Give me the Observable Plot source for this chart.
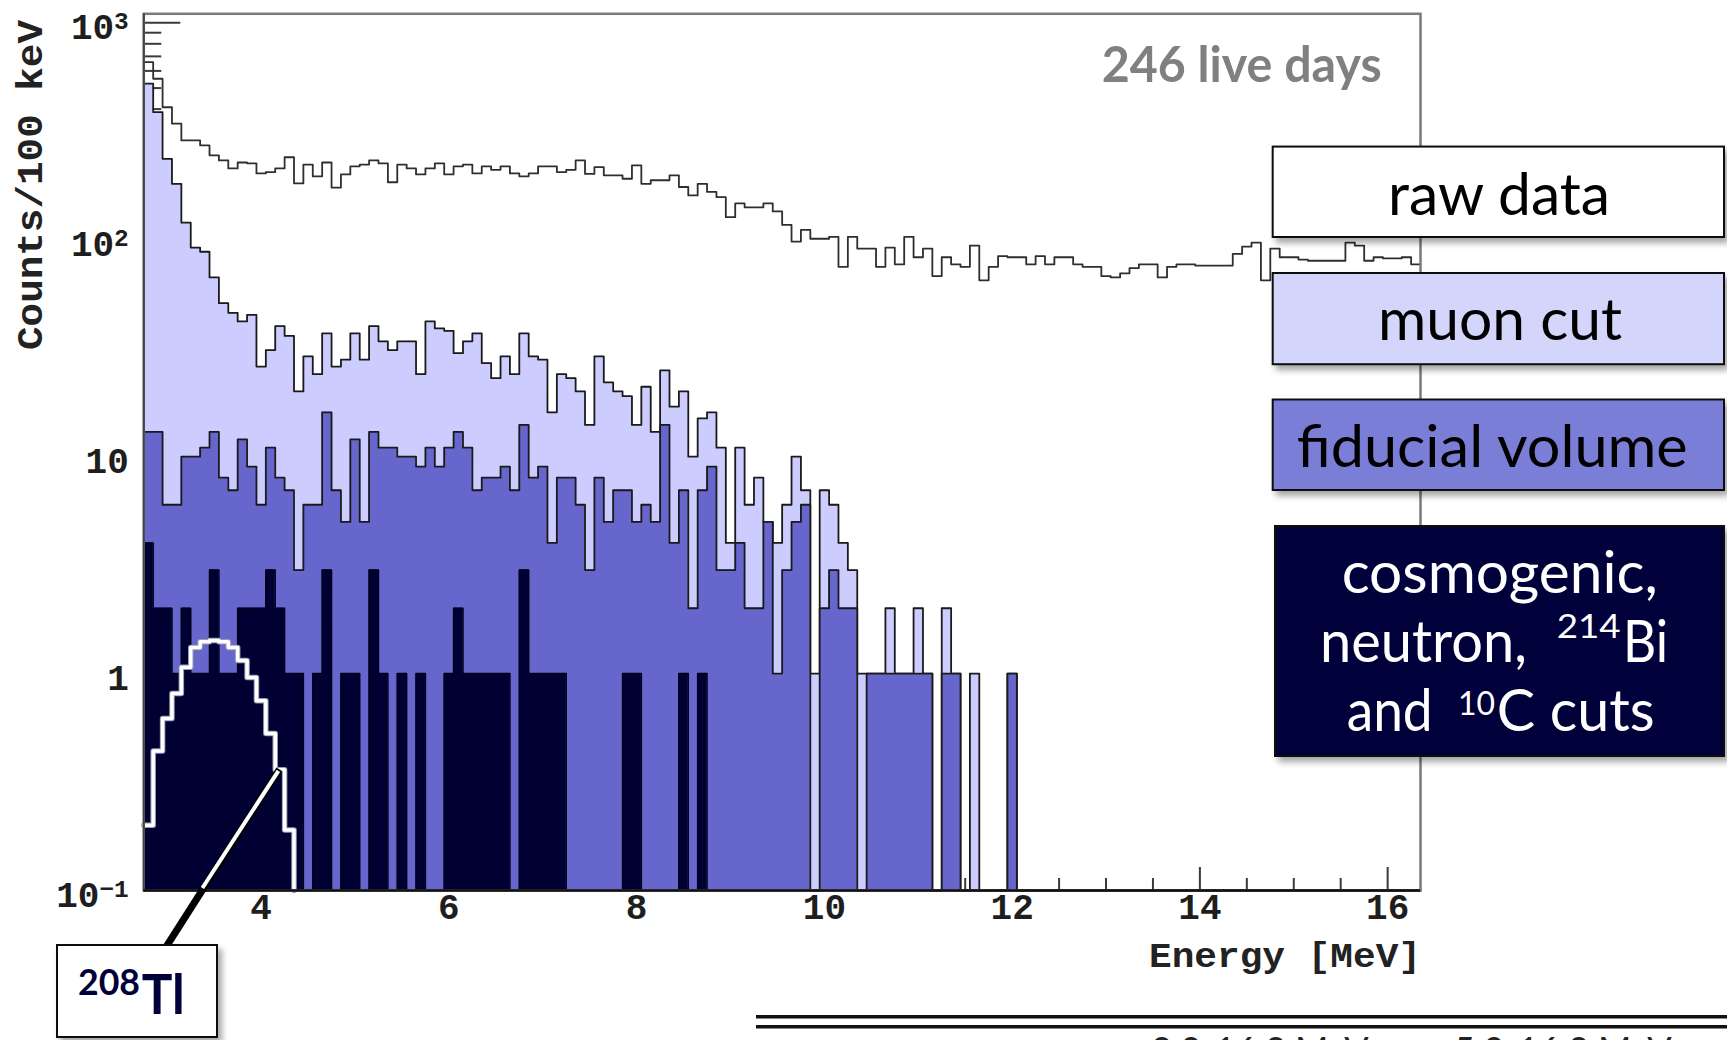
<!DOCTYPE html>
<html>
<head>
<meta charset="utf-8">
<script src="https://cdn.jsdelivr.net/npm/d3@7"></script>
<script src="https://cdn.jsdelivr.net/npm/@observablehq/plot@0.6"></script>
<style>
html, body { margin: 0; padding: 0; background: #fff; overflow: hidden; }
#chart { position: relative; width: 1727px; height: 1040px; }
#chart svg { display: block; }
</style>
</head>
<body>
<div id="chart"></div>
<script>
// ---------------- data ----------------
const binLow = 2.75;      // MeV, lower edge of the first 100 keV bin
const binWidth = 0.1;     // MeV
const yMin = 0.1, yMax = 1100;
const xMin = 2.75, xMax = 16.35;

const rawCounts = [
  659,552,408,343,287,287,272,245,232,213,
  227,225,202,205,213,240,182,222,196,227,
  174,200,218,222,232,225,184,222,213,200,
  213,225,200,218,222,202,218,210,218,202,
  196,202,218,218,205,210,232,201,216,198,
  198,191,220,181,188,188,198,175,160,181,
  166,157,127,147,141,141,147,135,117,98,
  111,101,101,103,75,103,91,91,75,92,
  77,103,83,91,68,83,77,75,94,65,
  75,84,83,83,77,84,77,83,83,77,
  75,75,68,67,70,74,77,77,67,75,
  77,77,76,76,76,76,86,93,97,65,
  91,83,83,81,80,80,80,80,97,94,
  80,83,82,82,83,77
];
const muonCutCounts = [
  524,387,236,181,120,92,88,67,51,46,
  42,45,26,31,40,36,20,29,24,37,
  26,28,37,28,40,34,31,34,34,24,
  42,39,38,30,34,37,27,23,29,24,
  37,29,28,16,24,23,20,14,29,22,
  20,19,14,21,13,25,17,20,10,15,
  16,11,4,11,6,8,5,4,6,10,
  7,1,7,6,4,3,1,1,1,2,
  1,1,2,1,0,2,1,0,1,0,
  0,0,1,0,0,0,0,0,0,0,
  0,0,0,0,0,0,0,0,0,0,
  0,0,0,0,0,0,0,0,0,0,
  0,0,0,0,0,0,0,0,0,0,
  0,0,0,0,0,0
];
const fiducialCounts = [
  13,13,6,6,10,10,11,13,8,7,
  12,9,6,11,8,7,3,6,6,16,
  7,5,12,5,13,11,11,10,10,9,
  11,9,11,13,11,7,8,8,9,7,
  14,8,9,4,8,8,6,3,8,5,
  7,7,5,6,5,14,4,7,2,7,
  9,3,3,4,2,2,5,1,3,5,
  6,0,2,3,2,2,0,1,1,1,
  1,1,1,1,0,1,1,0,0,0,
  0,0,1,0,0,0,0,0,0,0,
  0,0,0,0,0,0,0,0,0,0,
  0,0,0,0,0,0,0,0,0,0,
  0,0,0,0,0,0,0,0,0,0,
  0,0,0,0,0,0
];
const cosmogenicCutCounts = [
  4,2,2,1,2,1,1,3,1,1,
  2,2,2,3,2,1,1,0,1,3,
  0,1,1,0,3,1,0,1,0,1,
  0,0,1,2,1,1,1,1,1,0,
  3,1,1,1,1,0,0,0,0,0,
  0,1,1,0,0,0,0,1,0,1,
  0,0,0,0,0,0,0,0,0,0,
  0,0,0,0,0,0,0,0,0,0,
  0,0,0,0,0,0,0,0,0,0,
  0,0,0,0,0,0,0,0,0,0,
  0,0,0,0,0,0,0,0,0,0,
  0,0,0,0,0,0,0,0,0,0,
  0,0,0,0,0,0,0,0,0,0,
  0,0,0,0,0,0
];
// expected 208Tl spectrum (white curve), first 16 bins
const tl208Expected = [0.20,0.44,0.62,0.81,1.07,1.32,1.40,1.42,1.40,1.32,1.15,0.96,0.75,0.53,0.36,0.19];

const yTickValues = [0.1, 1, 10, 100, 1000];
const yTickLabels = ["10^-1", "1", "10", "10^2", "10^3"];
const xTickValues = [4, 6, 8, 10, 12, 14, 16];
const xTickLabels = ["4", "6", "8", "10", "12", "14", "16"];

const legendLabels = ["raw data", "muon cut", "fiducial volume"];
const cutLegendLines = ["cosmogenic,", "neutron,", "214", "Bi", "and", "10", "C cuts"];
const exposureLabel = "246 live days";
const peakLabel = ["208", "Tl"];
const yTitle = "Counts/100 keV";
const xTitle = "Energy [MeV]";
const rangeLabels = ["3.0-16.3 MeV", "5.0-16.3 MeV"];

// ---------------- helpers ----------------
function stepPoints(counts, dropAtEnd) {
  const pts = counts.map((c, i) => ({x: binLow + i * binWidth, y: c > 0 ? c : yMin}));
  pts.push({x: binLow + counts.length * binWidth, y: dropAtEnd ? yMin : pts[pts.length - 1].y});
  return pts;
}
const rawPts = stepPoints(rawCounts, false);
const muonPts = stepPoints(muonCutCounts, false);
const fidPts = stepPoints(fiducialCounts, false);
const cosPts = stepPoints(cosmogenicCutCounts, false);
const tlPts = stepPoints(tl208Expected, true);

const yMinorTicks = [];
[0.1, 1, 10, 100].forEach(dec => { for (let m = 2; m <= 9; m++) yMinorTicks.push(+(dec * m).toPrecision(3)); });
const xMinorTicks = d3.range(3, 16.3, 0.5).filter(v => v % 2 !== 0);

// ---------------- layout ----------------
const W = 1727, H = 1040;
const M = {left: 143.3, top: 13.3, right: 307, bottom: 150};
const innerW = W - M.left - M.right;
const innerH = H - M.top - M.bottom;
const mono = "'Liberation Mono', 'DejaVu Sans Mono', monospace";
const sans = "Lato, 'Open Sans', sans-serif";
const tickStroke = "#3a3a3a";
const colors = {muon: "#ccccff", fid: "#6666cc", cos: "#000033"};

const chart = Plot.plot({
  width: W, height: H,
  marginLeft: M.left, marginTop: M.top, marginRight: M.right, marginBottom: M.bottom,
  style: {background: "white", fontFamily: mono, overflow: "visible"},
  x: {domain: [xMin, xMax], axis: null},
  y: {type: "log", domain: [yMin, yMax], axis: null},
  marks: [
    // inward ticks (drawn first, hidden behind the filled histograms)
    Plot.tickY(yTickValues, {y: d => d, insetRight: innerW - 37, stroke: tickStroke, strokeWidth: 2}),
    Plot.tickY(yMinorTicks, {y: d => d, insetRight: innerW - 18, stroke: tickStroke, strokeWidth: 2}),
    Plot.tickX(xTickValues, {x: d => d, insetTop: innerH - 23, stroke: tickStroke, strokeWidth: 2}),
    Plot.tickX(xMinorTicks, {x: d => d, insetTop: innerH - 12, stroke: tickStroke, strokeWidth: 2}),
    // raw data
    Plot.line(rawPts, {x: "x", y: "y", curve: "step-after", stroke: "#2e2e2e", strokeWidth: 1.8}),
    // muon cut
    Plot.areaY(muonPts, {x: "x", y1: yMin, y2: "y", curve: "step-after", fill: colors.muon}),
    Plot.line(muonPts, {x: "x", y: "y", curve: "step-after", stroke: "#1a1a1a", strokeWidth: 1.8}),
    // fiducial volume
    Plot.areaY(fidPts, {x: "x", y1: yMin, y2: "y", curve: "step-after", fill: colors.fid}),
    Plot.line(fidPts, {x: "x", y: "y", curve: "step-after", stroke: "#1a1a1a", strokeWidth: 1.8}),
    // cosmogenic, neutron, 214Bi and 10C cuts
    Plot.areaY(cosPts, {x: "x", y1: yMin, y2: "y", curve: "step-after", fill: colors.cos}),
    Plot.line(cosPts, {x: "x", y: "y", curve: "step-after", stroke: "#00001a", strokeWidth: 1.5}),
    // 208Tl expectation
    Plot.line(tlPts, {x: "x", y: "y", curve: "step-after", stroke: "#9a9ab4", strokeWidth: 5.5}),
    Plot.line(tlPts, {x: "x", y: "y", curve: "step-after", stroke: "#ffffff", strokeWidth: 3.5}),
    // frame and axes lines
    Plot.frame({stroke: "#7a7a7a", strokeWidth: 2.5}),
    Plot.ruleX([xMin], {stroke: "#444", strokeWidth: 2}),
    Plot.ruleY([yMin], {stroke: "#111", strokeWidth: 2.5}),
    // tick labels
    Plot.text(yTickValues, {y: d => d, frameAnchor: "left", dx: -15, dy: 5, textAnchor: "end",
      text: (d, i) => yTickLabels[i], fontSize: 36, fontWeight: "bold", fontFamily: mono, fill: "#1e1e1e"}),
    Plot.text(xTickValues, {x: d => d, frameAnchor: "bottom", dy: 28,
      text: (d, i) => xTickLabels[i], fontSize: 36, fontWeight: "bold", fontFamily: mono, fill: "#1e1e1e"})
  ]
});
document.getElementById("chart").appendChild(chart);

// ---------------- annotations ----------------
const svg = d3.select(chart);
// superscripts in y tick labels
svg.selectAll("text").each(function () {
  const s = this.textContent;
  if (s.includes("^")) {
    const [base, exp] = s.split("^");
    const el = d3.select(this);
    el.text(null);
    el.append("tspan").text(base);
    el.append("tspan").attr("dy", "-0.42em").attr("font-size", "0.68em").text(exp.replace("-", "\u2212"));
  }
});

const defs = svg.append("defs");
const filt = defs.append("filter").attr("id", "shadow")
  .attr("x", "-5%").attr("y", "-5%").attr("width", "115%").attr("height", "130%");
filt.append("feDropShadow").attr("dx", 4).attr("dy", 5).attr("stdDeviation", 3)
  .attr("flood-color", "#000").attr("flood-opacity", 0.35);

function addText(g, str, x, y, o) {
  const t = g.append("text").attr("x", x).attr("y", y)
    .attr("text-anchor", "start")
    .attr("font-family", o.family || sans)
    .attr("font-size", o.size)
    .attr("font-weight", o.weight || "normal")
    .attr("fill", o.fill || "#000")
    .text(str);
  if (o.len) t.attr("textLength", o.len).attr("lengthAdjust", "spacingAndGlyphs");
  if (o.transform) t.attr("transform", o.transform);
  return t;
}

const ann = svg.append("g").attr("text-anchor", "start");

// axis titles
addText(ann, yTitle, 0, 0, {family: mono, size: 37, weight: "bold", fill: "#222", len: 330,
  transform: "translate(42,350) rotate(-90)"});
addText(ann, xTitle, 1149, 967, {family: mono, size: 35, weight: "bold", fill: "#222", len: 272});

// exposure
addText(ann, exposureLabel, 1101.7, 81.7, {size: 49, weight: "bold", fill: "#808080", len: 280});

// legend boxes
const boxes = [
  {x: 1272.7, y: 146.6, w: 451.3, h: 90.4, fill: "#ffffff"},
  {x: 1272.7, y: 273.0, w: 451.3, h: 91.2, fill: "#d4d5fb"},
  {x: 1272.7, y: 399.5, w: 451.3, h: 90.5, fill: "#7a7ed6"},
  {x: 1275.0, y: 526.0, w: 449.0, h: 230.0, fill: "#00003a"}
];
boxes.forEach(b => {
  ann.append("rect").attr("x", b.x).attr("y", b.y).attr("width", b.w).attr("height", b.h)
    .attr("fill", b.fill).attr("stroke", "#111").attr("stroke-width", 2).attr("filter", "url(#shadow)");
});
addText(ann, legendLabels[0], 1388, 215, {size: 58, len: 222});
addText(ann, legendLabels[1], 1378, 340, {size: 58, len: 244});
addText(ann, legendLabels[2], 1296.7, 467, {size: 58, len: 391});
addText(ann, cutLegendLines[0], 1341.7, 593, {size: 58, len: 316, fill: "#fff"});
addText(ann, cutLegendLines[1], 1320, 662, {size: 58, len: 207, fill: "#fff"});
addText(ann, cutLegendLines[2], 1556.7, 638, {size: 33, len: 64, fill: "#fff"});
addText(ann, cutLegendLines[3], 1623, 662, {size: 58, len: 45, fill: "#fff"});
addText(ann, cutLegendLines[4], 1346.7, 731, {size: 58, len: 86, fill: "#fff"});
addText(ann, cutLegendLines[5], 1458, 715, {size: 33, len: 37, fill: "#fff"});
addText(ann, cutLegendLines[6], 1496.7, 731, {size: 58, len: 158, fill: "#fff"});

// 208Tl callout
const xs = chart.scale("x"), ys = chart.scale("y");
const ax = xs.apply(binLow + 14.5 * binWidth), ay = ys.apply(tl208Expected[14]);
const bx = 166.7, by = 946;
const baseY = ys.apply(yMin);
const tt = (baseY - ay) / (by - ay);
const cx = ax + tt * (bx - ax);
ann.append("line").attr("x1", ax).attr("y1", ay).attr("x2", bx).attr("y2", by)
  .attr("stroke", "#000").attr("stroke-width", 7);
ann.append("line").attr("x1", ax - 1).attr("y1", ay + 1.5).attr("x2", cx).attr("y2", baseY - 2)
  .attr("stroke", "#fff").attr("stroke-width", 4);
ann.append("rect").attr("x", 57).attr("y", 945).attr("width", 160).attr("height", 92)
  .attr("fill", "#fff").attr("stroke", "#111").attr("stroke-width", 2).attr("filter", "url(#shadow)");
addText(ann, peakLabel[0], 78, 995, {size: 36, weight: "bold", fill: "#00003b", len: 62});
addText(ann, peakLabel[1], 141.7, 1014, {size: 56, weight: "bold", fill: "#00003b", len: 43});

// bottom double rule and (cropped) range labels
[1016.7, 1026.7].forEach(y => {
  ann.append("line").attr("x1", 756).attr("x2", 1727).attr("y1", y).attr("y2", y)
    .attr("stroke", "#111").attr("stroke-width", 3.5);
});
addText(ann, rangeLabels[0], 1151, 1063, {size: 36, fill: "#222"});
addText(ann, rangeLabels[1], 1454, 1063, {size: 36, fill: "#222"});
</script>
</body>
</html>
